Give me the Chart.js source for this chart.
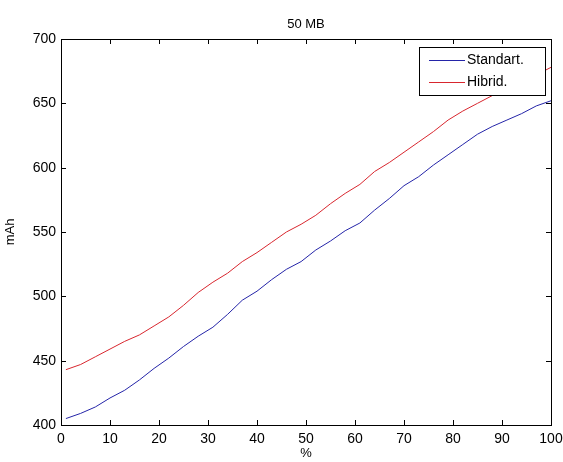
<!DOCTYPE html>
<html>
<head>
<meta charset="utf-8">
<script src="https://cdn.jsdelivr.net/npm/chart.js@4.4.0/dist/chart.umd.min.js"></script>
<style>
  html, body { margin: 0; padding: 0; background: #fff; }
  #wrap { width: 563px; height: 462px; }
</style>
</head>
<body>
<div id="wrap"><canvas id="chart" width="563" height="462"></canvas></div>
<script>
// Data
const xValues = [1, 4, 7, 10, 13, 16, 19, 22, 25, 28, 31, 34, 37, 40, 43, 46, 49, 52, 55,
                 58, 61, 64, 67, 70, 73, 76, 79, 82, 85, 88, 91, 94, 97, 100];
const standartValues = [405, 409, 414, 421, 427, 435, 444, 452, 461, 469, 476, 486, 497, 504, 513, 521, 527, 536, 543,
                        551, 557, 567, 576, 586, 593, 602, 610, 618, 626, 632, 637, 642, 648, 652];
const hibridValues = [443, 447, 453, 459, 465, 470, 477, 484, 493, 503, 511, 518, 527, 534, 542, 550, 556, 563, 572,
                      580, 587, 597, 604, 612, 620, 628, 637, 644, 650, 656, 661, 667, 672, 678];
const seriesLabels = ['Standart.', 'Hibrid.'];
const xTicks = [0, 10, 20, 30, 40, 50, 60, 70, 80, 90, 100];
const yTicks = [400, 450, 500, 550, 600, 650, 700];

const FONT = '"Liberation Sans", Arial, sans-serif';
const toPoints = (ys) => xValues.map((x, i) => ({ x: x, y: ys[i] }));

// MATLAB-like box, inward ticks, title, axis labels and legend
const matlabFrame = {
    id: 'matlabFrame',
    afterDraw(chart) {
        const ctx = chart.ctx;
        const { left, right, top, bottom } = chart.chartArea;
        const xs = chart.scales.x;
        const ys = chart.scales.y;
        ctx.save();
        ctx.strokeStyle = '#000';
        ctx.lineWidth = 1;
        ctx.strokeRect(Math.round(left) + 0.5, Math.round(top) + 0.5,
                       Math.round(right - left), Math.round(bottom - top));
        ctx.beginPath();
        xTicks.forEach(v => {
            const px = Math.round(xs.getPixelForValue(v)) + 0.5;
            ctx.moveTo(px, bottom); ctx.lineTo(px, bottom - 5);
            ctx.moveTo(px, top); ctx.lineTo(px, top + 5);
        });
        yTicks.forEach(v => {
            const py = Math.round(ys.getPixelForValue(v)) + 0.5;
            ctx.moveTo(left, py); ctx.lineTo(left + 5, py);
            ctx.moveTo(right, py); ctx.lineTo(right - 5, py);
        });
        ctx.stroke();

        // title and axis labels
        const cx = (left + right) / 2;
        ctx.fillStyle = '#000';
        ctx.font = '13px ' + FONT;
        ctx.textAlign = 'center';
        ctx.textBaseline = 'middle';
        ctx.fillText('50 MB', cx, 24);
        ctx.fillText('%', cx, 453);
        ctx.save();
        ctx.translate(10, (top + bottom) / 2);
        ctx.rotate(-Math.PI / 2);
        ctx.fillText('mAh', 0, 0);
        ctx.restore();

        // legend box
        const lx = 419, ly = 47, lw = 126, lh = 48;
        ctx.fillStyle = '#fff';
        ctx.fillRect(lx, ly, lw, lh);
        ctx.strokeRect(lx + 0.5, ly + 0.5, lw, lh);
        ctx.font = '14px ' + FONT;
        chart.data.datasets.forEach((ds, i) => {
            const ry = ly + 13 + i * 22 + 0.5;
            ctx.strokeStyle = ds.borderColor;
            ctx.beginPath();
            ctx.moveTo(lx + 10, ry);
            ctx.lineTo(lx + 46, ry);
            ctx.stroke();
            ctx.fillStyle = '#000';
            ctx.textAlign = 'left';
            ctx.fillText(ds.label, lx + 48, ry);
        });
        ctx.restore();
    }
};

new Chart(document.getElementById('chart'), {
    type: 'line',
    data: {
        datasets: [
            {
                label: seriesLabels[0],
                data: toPoints(standartValues),
                borderColor: '#2424a8',
                borderWidth: 1,
                pointRadius: 0,
                tension: 0
            },
            {
                label: seriesLabels[1],
                data: toPoints(hibridValues),
                borderColor: '#d8262e',
                borderWidth: 1,
                pointRadius: 0,
                tension: 0
            }
        ]
    },
    options: {
        responsive: false,
        animation: false,
        layout: { padding: { top: 39, right: 0, left: 0, bottom: 0 } },
        plugins: {
            legend: { display: false },
            title: { display: false },
            tooltip: { enabled: false }
        },
        scales: {
            x: {
                type: 'linear',
                min: 0,
                max: 100,
                afterFit: (scale) => { scale.height = 37; scale.paddingRight = 12; },
                afterBuildTicks: (scale) => { scale.ticks = xTicks.map(v => ({ value: v })); },
                grid: { display: false, drawTicks: false },
                border: { display: false },
                ticks: {
                    padding: 6,
                    color: '#000',
                    font: { family: FONT, size: 14 },
                    maxRotation: 0
                }
            },
            y: {
                min: 400,
                max: 700,
                afterFit: (scale) => { scale.width = 61; },
                afterBuildTicks: (scale) => { scale.ticks = yTicks.map(v => ({ value: v })); },
                grid: { display: false, drawTicks: false },
                border: { display: false },
                ticks: {
                    padding: 5,
                    color: '#000',
                    font: { family: FONT, size: 14 }
                }
            }
        }
    },
    plugins: [matlabFrame]
});
</script>
</body>
</html>
